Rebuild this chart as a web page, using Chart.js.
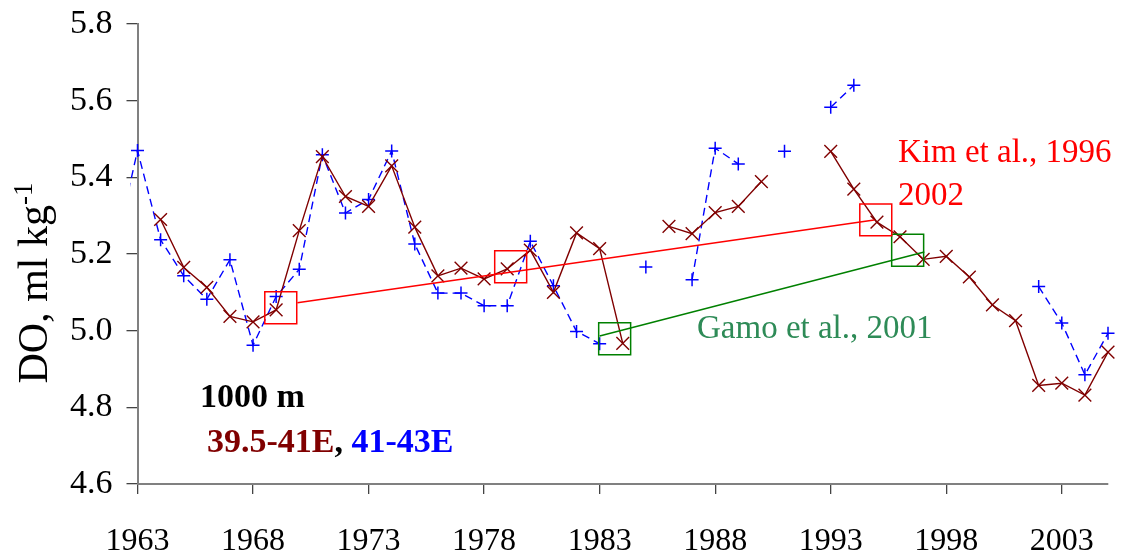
<!DOCTYPE html>
<html>
<head>
<meta charset="utf-8">
<script src="https://cdn.jsdelivr.net/npm/chart.js@4/dist/chart.umd.min.js"></script>
<style>
html, body { margin: 0; padding: 0; background: #fff; }
#wrap { width: 1122px; height: 555px; }
</style>
</head>
<body>
<div id="wrap"><canvas id="doChart" width="1122" height="555"></canvas></div>
<script>
// years of the 1000 m DO record
const years = [1962, 1963, 1964, 1965, 1966, 1967, 1968, 1969, 1970, 1971, 1972,
  1973, 1974, 1975, 1976, 1977, 1978, 1979, 1980, 1981, 1982, 1983, 1984, 1985,
  1986, 1987, 1988, 1989, 1990, 1991, 1992, 1993, 1994, 1995, 1996, 1997, 1998,
  1999, 2000, 2001, 2002, 2003, 2004, 2005];

// 39.5-41E (brown, solid)
const doWest = [null, null, 5.29, 5.165, 5.113, 5.037, 5.023, 5.054, 5.261, 5.454, 5.35,
  5.324, 5.43, 5.27, 5.143, 5.163, 5.135, 5.161, 5.21, 5.10, 5.255, 5.214, 4.967, null,
  5.272, 5.253, 5.308, 5.324, 5.389, null, null, 5.468, 5.369, 5.283, 5.245, 5.186, 5.194,
  5.14, 5.067, 5.026, 4.857, 4.863, 4.832, 4.944];

// 41-43E (blue, dashed)
const doEast = [5.2, 5.47, 5.237, 5.143, 5.082, 5.185, 4.962, 5.089, 5.16, 5.459, 5.307,
  5.342, 5.469, 5.226, 5.098, 5.098, 5.065, 5.065, 5.233, 5.117, 4.998, 4.966, null, 5.166,
  null, 5.133, 5.476, 5.435, null, 5.468, null, 5.583, 5.64, null, null, null, null,
  null, null, null, 5.115, 5.02, 4.885, 4.993];

// Kim et al. 1996, 2002 boxes and trend
const kimYears = [1969.2, 1979.15, 1994.95];
const kimValues = [5.06, 5.167, 5.289];
const kimLineYears = [1969.92, 1994.88];
const kimLineValues = [5.073, 5.289];

// Gamo et al. 2001 boxes and trend
const gamoYears = [1983.65, 1996.33];
const gamoValues = [4.979, 5.21];
const gamoLineYears = [1983.0, 1997.05];
const gamoLineValues = [4.986, 5.205];

// axis ticks
const tickYears = [1963, 1968, 1973, 1978, 1983, 1988, 1993, 1998, 2003];
const tickDO = [4.6, 4.8, 5.0, 5.2, 5.4, 5.6, 5.8];

const BROWN = '#800000';
const BLUE = '#0000ff';
const SERIF = '"Liberation Serif", "Times New Roman", serif';

function pts(xs, ys) {
  return xs.map((x, i) => ({ x: x, y: ys[i] }));
}

// text labels drawn on top of the chart
const labelsPlugin = {
  id: 'labels',
  afterDraw(chart) {
    const ctx = chart.ctx;
    ctx.save();
    ctx.textBaseline = 'alphabetic';
    ctx.textAlign = 'left';

    // y axis title, rotated, with superscript
    ctx.save();
    ctx.translate(47, 283);
    ctx.rotate(-Math.PI / 2);
    const main = 'DO, ml kg';
    ctx.font = '42px ' + SERIF;
    const w1 = ctx.measureText(main).width;
    ctx.font = '27px ' + SERIF;
    const w2 = ctx.measureText('-1').width;
    const x0 = -(w1 + w2) / 2;
    ctx.fillStyle = '#000';
    ctx.font = '42px ' + SERIF;
    ctx.fillText(main, x0, 0);
    ctx.font = '27px ' + SERIF;
    ctx.fillText('-1', x0 + w1, -15);
    ctx.restore();

    // Kim et al.
    ctx.fillStyle = '#ff0000';
    ctx.font = '33px ' + SERIF;
    ctx.fillText('Kim et al., 1996', 898, 162);
    ctx.fillText('2002', 898, 205);

    // Gamo et al.
    ctx.fillStyle = '#2e8b57';
    ctx.fillText('Gamo et al., 2001', 697, 338);

    // depth and regions
    ctx.font = 'bold 34px ' + SERIF;
    ctx.fillStyle = '#000';
    ctx.fillText('1000 m', 200, 407);
    let x = 207;
    const parts = [['39.5-41E', BROWN], [', ', '#000'], ['41-43E', BLUE]];
    parts.forEach(p => {
      ctx.fillStyle = p[1];
      ctx.fillText(p[0], x, 452);
      x += ctx.measureText(p[0]).width;
    });
    ctx.restore();
  }
};

const ctx = document.getElementById('doChart').getContext('2d');
new Chart(ctx, {
  type: 'line',
  data: {
    datasets: [
      {
        label: 'Kim boxes',
        data: pts(kimYears, kimValues),
        showLine: false,
        pointStyle: 'rect',
        pointRadius: 22.6,
        pointBorderColor: '#ff0000',
        pointBackgroundColor: 'rgba(0,0,0,0)',
        pointBorderWidth: 1.5,
        clip: false,
        order: 1
      },
      {
        label: 'Kim trend',
        data: pts(kimLineYears, kimLineValues),
        borderColor: '#ff0000',
        borderWidth: 1.5,
        pointRadius: 0,
        order: 1
      },
      {
        label: 'Gamo boxes',
        data: pts(gamoYears, gamoValues),
        showLine: false,
        pointStyle: 'rect',
        pointRadius: 22.6,
        pointBorderColor: '#008000',
        pointBackgroundColor: 'rgba(0,0,0,0)',
        pointBorderWidth: 1.5,
        clip: false,
        order: 1
      },
      {
        label: 'Gamo trend',
        data: pts(gamoLineYears, gamoLineValues),
        borderColor: '#008000',
        borderWidth: 1.5,
        pointRadius: 0,
        order: 1
      },
      {
        label: '39.5-41E',
        data: pts(years, doWest),
        borderColor: BROWN,
        borderWidth: 1.4,
        pointStyle: 'crossRot',
        pointRadius: 9,
        pointBorderColor: BROWN,
        pointBorderWidth: 1.4,
        spanGaps: false,
        clip: { left: 0, top: 0, right: 10, bottom: 0 },
        order: 2
      },
      {
        label: '41-43E',
        data: pts(years, doEast),
        borderColor: BLUE,
        borderWidth: 1.4,
        borderDash: [8, 5],
        pointStyle: 'cross',
        pointRadius: 6.5,
        pointBorderColor: BLUE,
        pointBorderWidth: 1.5,
        spanGaps: false,
        clip: { left: 7, top: 0, right: 10, bottom: 0 },
        order: 3
      }
    ]
  },
  options: {
    responsive: false,
    animation: false,
    events: [],
    layout: { autoPadding: false, padding: { left: 0, top: 24, right: 14, bottom: 0 } },
    plugins: {
      legend: { display: false },
      tooltip: { enabled: false }
    },
    scales: {
      x: {
        type: 'linear',
        min: 1963,
        max: 2005,
        afterBuildTicks: s => { s.ticks = tickYears.map(v => ({ value: v })); },
        afterFit: s => { s.height = 71; s.paddingLeft = 0; s.paddingRight = 0; },
        border: { color: '#808080', width: 2 },
        grid: { drawOnChartArea: false, drawTicks: true, tickLength: 10, color: '#444', lineWidth: 1.3 },
        ticks: {
          color: '#000',
          font: { family: SERIF, size: 32 },
          padding: 28,
          maxRotation: 0,
          callback: v => String(v)
        }
      },
      y: {
        min: 4.6,
        max: 5.8,
        afterBuildTicks: s => { s.ticks = tickDO.map(v => ({ value: v })); },
        afterFit: s => { s.width = 137.5; s.paddingTop = 0; s.paddingBottom = 0; },
        border: { color: '#808080', width: 2 },
        grid: { drawOnChartArea: false, drawTicks: true, tickLength: 11, color: '#444', lineWidth: 1.3 },
        ticks: {
          color: '#000',
          font: { family: SERIF, size: 34 },
          padding: 14,
          callback: v => v.toFixed(1)
        }
      }
    }
  },
  plugins: [labelsPlugin]
});
</script>
</body>
</html>
